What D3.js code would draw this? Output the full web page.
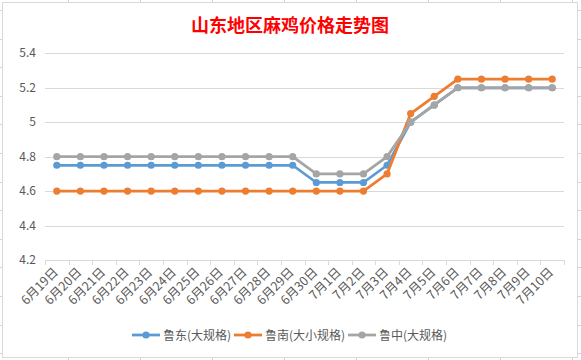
<!DOCTYPE html>
<html><head><meta charset="utf-8">
<script src="https://cdn.jsdelivr.net/npm/d3@7"></script>
<style>body{margin:0;background:#fff}svg{display:block}text{font-family:"Noto Sans CJK SC","Noto Sans",sans-serif}</style>
</head><body><svg id="c" width="581" height="360"></svg>
<script>
const categories = ["6月19日","6月20日","6月21日","6月22日","6月23日","6月24日","6月25日","6月26日","6月27日","6月28日","6月29日","6月30日","7月1日","7月2日","7月3日","7月4日","7月5日","7月6日","7月7日","7月8日","7月9日","7月10日"];
const ludong = [4.75,4.75,4.75,4.75,4.75,4.75,4.75,4.75,4.75,4.75,4.75,4.65,4.65,4.65,4.75,5.0,5.1,5.2,5.2,5.2,5.2,5.2];
const lunan = [4.6,4.6,4.6,4.6,4.6,4.6,4.6,4.6,4.6,4.6,4.6,4.6,4.6,4.6,4.7,5.05,5.15,5.25,5.25,5.25,5.25,5.25];
const luzhong = [4.8,4.8,4.8,4.8,4.8,4.8,4.8,4.8,4.8,4.8,4.8,4.7,4.7,4.7,4.8,5.0,5.1,5.2,5.2,5.2,5.2,5.2];
const yTicks = [4.2,4.4,4.6,4.8,5,5.2,5.4];
const seriesNames = ["鲁东(大规格)","鲁南(大小规格)","鲁中(大规格)"];
const colors = ["#5b9bd5","#ed7d31","#a5a5a5"];
const title = "山东地区麻鸡价格走势图";

const svg = d3.select("#c");
// spreadsheet cell grid behind chart
const bg = svg.append("g").attr("stroke","#d4d4d4").attr("stroke-width",1);
d3.range(68,581,72).forEach(x=>bg.append("line").attr("x1",x+0.5).attr("x2",x+0.5).attr("y1",0).attr("y2",360));
d3.range(10,360,28.6).forEach(y=>bg.append("line").attr("x1",0).attr("x2",581).attr("y1",Math.round(y)+0.5).attr("y2",Math.round(y)+0.5));
svg.append("rect").attr("x",2.5).attr("y",2.5).attr("width",575).attr("height",355)
  .attr("fill","#fff").attr("stroke","#d9d9d9");

svg.append("text").attr("x",290).attr("y",32).attr("text-anchor","middle")
  .attr("fill","#ff0000").attr("font-size",18).attr("font-weight","bold").text(title);

const x = d3.scaleBand().domain(categories).range([45,564]);
const y = d3.scaleLinear().domain([4.2,5.4]).range([260,53.3]);

// gridlines
svg.append("g").selectAll("line").data(yTicks.filter(d=>d>4.2)).join("line")
  .attr("x1",45).attr("x2",564).attr("y1",d=>Math.round(y(d))+0.5).attr("y2",d=>Math.round(y(d))+0.5)
  .attr("stroke","#d9d9d9");

// y labels
svg.append("g").selectAll("text").data(yTicks).join("text")
  .attr("x",36).attr("y",d=>y(d)+4).attr("text-anchor","end")
  .attr("fill","#595959").attr("font-size",12).attr("font-family","'Liberation Sans',sans-serif")
  .text(d=>d);

// x axis
svg.append("line").attr("x1",45).attr("x2",564).attr("y1",260.5).attr("y2",260.5).attr("stroke","#d9d9d9");
const bounds = categories.map(c=>x(c)).concat([564]);
svg.append("g").selectAll("line").data(bounds).join("line")
  .attr("x1",d=>Math.round(d)+0.5).attr("x2",d=>Math.round(d)+0.5).attr("y1",260).attr("y2",265).attr("stroke","#d9d9d9");
svg.append("g").selectAll("text").data(categories).join("text")
  .attr("transform",d=>`translate(${x(d)+x.bandwidth()/2+2},${273}) rotate(-45)`)
  .attr("text-anchor","end").attr("fill","#595959").attr("font-size",12.5)
  .attr("font-family","'Liberation Sans','Noto Sans CJK SC',sans-serif")
  .text(d=>d);

// series
const data = [ludong,lunan,luzhong];
const line = d3.line().x((d,i)=>x(categories[i])+x.bandwidth()/2).y(d=>y(d));
data.forEach((s,k)=>{
  const g = svg.append("g");
  g.append("path").datum(s).attr("d",line).attr("fill","none").attr("stroke",colors[k]).attr("stroke-width",2.75).attr("stroke-linejoin","round");
  g.selectAll("circle").data(s).join("circle")
    .attr("cx",(d,i)=>x(categories[i])+x.bandwidth()/2).attr("cy",d=>y(d)).attr("r",3.6).attr("fill",colors[k]);
});

// legend
const legX = [132,234,348];
const lg = svg.append("g");
seriesNames.forEach((n,k)=>{
  lg.append("line").attr("x1",legX[k]).attr("x2",legX[k]+28).attr("y1",335).attr("y2",335).attr("stroke",colors[k]).attr("stroke-width",2.75);
  lg.append("circle").attr("cx",legX[k]+14).attr("cy",335).attr("r",3.6).attr("fill",colors[k]);
  lg.append("text").attr("x",legX[k]+31).attr("y",339.5).attr("fill","#595959").attr("font-size",12).text(n);
});
</script></body></html>
